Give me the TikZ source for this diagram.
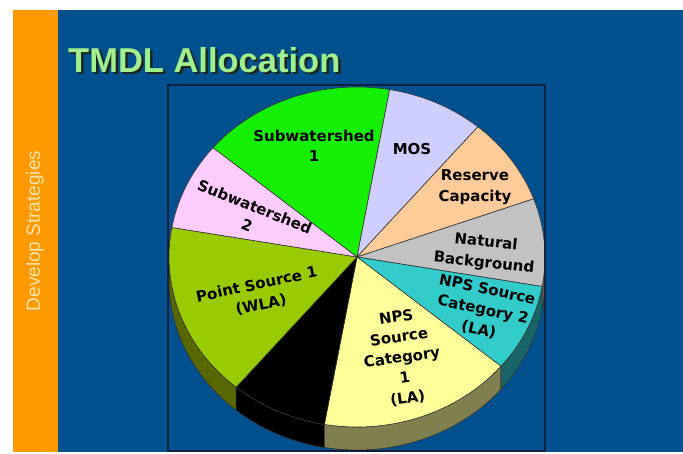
\documentclass[tikz,border=0pt]{standalone}
\usepackage{fontspec}
\setmainfont{Liberation Sans}
\newfontfamily\labelfont{DejaVu Sans}
\usetikzlibrary{calc}

\definecolor{slideblue}{RGB}{3,80,142}
\definecolor{barorange}{RGB}{255,153,0}
\definecolor{bartext}{RGB}{255,228,170}
\definecolor{titlegreen}{RGB}{160,240,140}
\definecolor{titleshade}{RGB}{25,40,30}
\definecolor{framenavy}{RGB}{18,32,62}
% slice colours
\definecolor{swone}{RGB}{20,240,0}
\definecolor{mos}{RGB}{206,206,255}
\definecolor{reserve}{RGB}{255,204,153}
\definecolor{natural}{RGB}{194,194,194}
\definecolor{npstwo}{RGB}{51,204,204}
\definecolor{npsone}{RGB}{255,255,153}
\definecolor{point}{RGB}{153,204,0}
\definecolor{swtwo}{RGB}{255,204,255}
\definecolor{pointside}{RGB}{88,104,0}
\definecolor{npsoneside}{RGB}{128,128,78}
\definecolor{npstwoside}{RGB}{24,100,104}
\definecolor{naturalside}{RGB}{90,90,90}

\tikzset{piechart/.style={x=1pt,y=1pt},
  piecut/.style={draw=black!80,line width=0.6pt},
  slicelabel/.style={font=\labelfont\bfseries\fontsize{15}{20.5}\selectfont,align=center,inner sep=0pt}}

\begin{document}
\begin{tikzpicture}[piechart]
\useasboundingbox (0,0) rectangle (683,-453);

% slide and side bar
\fill[slideblue] (13,-10) rectangle (683,-452);
\fill[barorange] (13,-10) rectangle (58,-452);
\node[rotate=90,text=bartext,font=\fontsize{19}{19}\selectfont] (bar) at (35,-231) {Develop Strategies};

% title
\node[anchor=base west,inner sep=0pt,text=titleshade,font=\bfseries\fontsize{34.5}{36}\selectfont] (titleshadow) at (70.5,-74.5) {TMDL Allocation};
\node[anchor=base west,inner sep=0pt,text=titlegreen,font=\bfseries\fontsize{34.5}{36}\selectfont] (title) at (68,-72) {TMDL Allocation};

\coordinate (c) at (357,-257);
\begin{scope}
\clip (168,-85) rectangle (545,-451);
% sides of the pie
\foreach \a/\b/\col in {180/230/pointside,230/260/black,260/320/npsoneside,320/350/npstwoside,350/360/naturalside}
  \filldraw[piecut,fill=\col] ($(c)+(\a:188 and 170)$) arc[start angle=\a,end angle=\b,x radius=188,y radius=170]
    -- ++(0,-23) arc[start angle=\b,end angle=\a,x radius=188,y radius=170] -- cycle;
% top of the pie
\foreach \a/\b/\col in {80/140/swone,50/80/mos,20/50/reserve,-10/20/natural,-40/-10/npstwo,-100/-40/npsone,-130/-100/black,170/230/point,140/170/swtwo}
  \filldraw[piecut,fill=\col] (c) -- ($(c)+(\a:188 and 170)$) arc[start angle=\a,end angle=\b,x radius=188,y radius=170] -- cycle;
\end{scope}
\draw[framenavy,line width=1.2pt] (168,-85) rectangle (545,-451);

% labels
\node[slicelabel] (lswone) at (314,-146) {Subwatershed\\1};
\node[slicelabel] (lmos) at (412,-149) {MOS};
\node[slicelabel] (lreserve) at (475,-187) {Reserve\\Capacity};
\node[slicelabel,rotate=-6] (lnatural) at (485,-253) {Natural\\Background};
\node[slicelabel,rotate=-12] (lnpstwo) at (483,-310) {NPS Source\\Category 2\\(LA)};
\node[slicelabel,rotate=8] (lnpsone) at (402,-358) {NPS\\Source\\Category\\1\\(LA)};
\node[slicelabel,rotate=12] (lpoint) at (259,-295) {Point Source 1\\(WLA)};
\node[slicelabel,rotate=-22] (lswtwo) at (251,-216) {Subwatershed\\2};
\end{tikzpicture}
\end{document}
